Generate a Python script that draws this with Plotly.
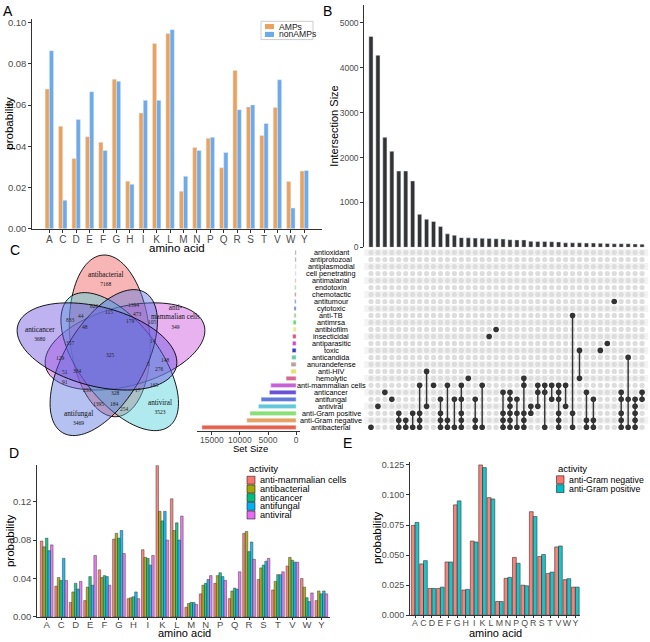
import numpy as np
import plotly.graph_objects as go

W, H = 650, 642
def px(x): return x / W
def py(y): return 1 - y / H

FONT = "Liberation Sans, Arial, sans-serif"
SERIF = "Liberation Serif, Times New Roman, serif"
TICKC = "#4D4D4D"

# ---------------- data ----------------
aa = list("ACDEFGHIKLMNPQRSTVWY")
amp_prob = [0.0678, 0.0497, 0.0341, 0.0447, 0.0420, 0.0726, 0.0231, 0.0562, 0.0899, 0.0947,
            0.0182, 0.0394, 0.0439, 0.0296, 0.0768, 0.0591, 0.0453, 0.0588, 0.0229, 0.0280]
nonamp_prob = [0.0864, 0.0139, 0.0530, 0.0665, 0.0380, 0.0716, 0.0216, 0.0623, 0.0623, 0.0966,
               0.0255, 0.0380, 0.0444, 0.0370, 0.0578, 0.0601, 0.0511, 0.0723, 0.0101, 0.0283]
groups_a = ["AMPs", "nonAMPs"]
colors_a = ["#E9A35E", "#6FAAE8"]

set_names = ["antioxidant", "antiprotozoal", "antiplasmodial", "cell penetrating", "antimalarial",
             "endotoxin", "chemotactic", "antitumour", "cytotoxic", "anti-TB", "antimrsa",
             "antibiofilm", "insecticidal", "antiparasitic", "toxic", "anticandida",
             "anurandefense", "anti-HIV", "hemolytic", "anti-mammalian cells", "anticancer",
             "antifungal", "antiviral", "anti-Gram positive", "anti-Gram negative", "antibacterial"]
set_sizes = [120, 130, 150, 150, 200, 230, 250, 250, 350, 350, 500, 500, 600, 650, 700, 770,
             900, 890, 1780, 4500, 4750, 6230, 6700, 8200, 8770, 16780]
set_colors = ["#222222", "#3a3a3a", "#b8b8e8", "#d0b8e0", "#e8b0b0", "#b0d890", "#c09090",
              "#a088c0", "#6878c8", "#b8c070", "#58e058", "#f0f070", "#e05070", "#d048d8",
              "#3838c8", "#70c8a0", "#b8a098", "#f0e060", "#d86890", "#c860d8", "#6a50d8",
              "#6078d8", "#60c8d8", "#88e070", "#e8a060", "#e8604c"]

inter_sizes = [4700, 4280, 2450, 2140, 1700, 1700, 1480, 735, 625, 575, 463, 300, 270, 215, 210,
               205, 200, 195, 190, 185, 170, 165, 165, 135, 130, 130, 125, 120, 100, 100, 100,
               95, 95, 90, 85, 80, 80, 80, 75, 70]
inter_members = [
    ["antibacterial"],
    ["antiviral"],
    ["anticancer"],
    ["antifungal"],
    ["antibacterial", "anti-Gram negative", "anti-Gram positive"],
    ["antibacterial", "anti-Gram negative"],
    ["antibacterial", "anti-Gram positive"],
    ["anti-mammalian cells", "antibacterial", "anti-Gram negative", "anti-Gram positive"],
    ["anti-HIV", "antiviral"],
    ["anti-mammalian cells"],
    ["antifungal", "antibacterial", "anti-Gram negative", "anti-Gram positive"],
    ["anti-mammalian cells", "antibacterial", "anti-Gram negative"],
    ["antifungal", "antibacterial"],
    ["anti-mammalian cells", "antifungal", "antibacterial", "anti-Gram negative", "anti-Gram positive"],
    ["hemolytic"],
    ["antifungal", "antibacterial", "anti-Gram negative"],
    ["anti-mammalian cells", "antibacterial"],
    ["insecticidal"],
    ["antibiofilm"],
    ["anticancer", "antibacterial", "anti-Gram negative", "anti-Gram positive"],
    ["anticancer", "antifungal", "antiviral", "antibacterial", "anti-Gram negative", "anti-Gram positive"],
    ["antifungal", "antibacterial", "anti-Gram positive"],
    ["hemolytic", "anti-mammalian cells", "antibacterial", "anti-Gram negative", "anti-Gram positive"],
    ["antiviral", "anti-Gram positive"],
    ["anti-mammalian cells", "anticancer", "antiviral"],
    ["anti-mammalian cells", "anticancer", "antibacterial"],
    ["anti-mammalian cells", "antifungal"],
    ["anti-mammalian cells", "anticancer", "antifungal", "antibacterial", "anti-Gram negative", "anti-Gram positive"],
    ["anti-mammalian cells", "antiviral"],
    ["anti-TB", "antibacterial", "anti-Gram positive"],
    ["toxic", "hemolytic"],
    ["anticancer", "antibacterial", "anti-Gram negative"],
    ["antifungal", "antibacterial", "anti-Gram negative"],
    ["toxic"],
    ["antiparasitic"],
    ["antitumour"],
    ["anticancer", "antifungal", "antibacterial", "anti-Gram negative", "anti-Gram positive"],
    ["anticandida", "antifungal", "antibacterial"],
    ["antifungal", "antiviral", "antibacterial", "anti-Gram negative", "anti-Gram positive"],
    ["anticancer", "antifungal"],
]
set_size_ticks = [0, 5000, 10000, 15000]

activities_d = ["anti-mammalian cells", "antibacterial", "anticancer", "antifungal", "antiviral"]
colors_d = ["#F8766D", "#A3A500", "#00BF7D", "#00B0F6", "#E76BF3"]
prob_d = {
    "anti-mammalian cells": [0.079, 0.032, 0.015, 0.017, 0.049, 0.081, 0.019, 0.070, 0.158, 0.123,
                             0.010, 0.024, 0.035, 0.019, 0.087, 0.039, 0.028, 0.053, 0.040, 0.017],
    "antibacterial": [0.073, 0.041, 0.026, 0.031, 0.041, 0.087, 0.020, 0.062, 0.110, 0.090,
                      0.014, 0.033, 0.043, 0.027, 0.089, 0.051, 0.037, 0.062, 0.031, 0.027],
    "anticancer": [0.082, 0.038, 0.035, 0.042, 0.043, 0.082, 0.021, 0.061, 0.100, 0.098,
                   0.015, 0.035, 0.046, 0.030, 0.068, 0.054, 0.044, 0.059, 0.020, 0.024],
    "antifungal": [0.069, 0.061, 0.029, 0.033, 0.042, 0.090, 0.026, 0.054, 0.110, 0.080,
                   0.015, 0.039, 0.042, 0.029, 0.078, 0.058, 0.044, 0.057, 0.016, 0.027],
    "antiviral": [0.075, 0.038, 0.037, 0.064, 0.033, 0.066, 0.019, 0.064, 0.080, 0.105,
                  0.013, 0.043, 0.038, 0.047, 0.060, 0.061, 0.047, 0.057, 0.025, 0.024],
}

activities_e = ["anti-Gram negative", "anti-Gram positive"]
colors_e = ["#F8766D", "#00BFC4"]
prob_e = {
    "anti-Gram negative": [0.0747, 0.0427, 0.0223, 0.0223, 0.0443, 0.0918, 0.0210, 0.0617, 0.1250, 0.0978,
                           0.0114, 0.0307, 0.0481, 0.0250, 0.0861, 0.0489, 0.0348, 0.0568, 0.0296, 0.0234],
    "anti-Gram positive": [0.0772, 0.0454, 0.0223, 0.0234, 0.0443, 0.0951, 0.0215, 0.0609, 0.1228, 0.0967,
                           0.0114, 0.0315, 0.0432, 0.0245, 0.0821, 0.0505, 0.0359, 0.0576, 0.0304, 0.0234],
}

venn_sets = ["antibacterial", "anti-mammalian cells", "antiviral", "antifungal", "anticancer"]
venn_set_totals = [7168, 349, 3523, 3469, 3680]
venn_region_counts = [826, 1394, 44, 115, 473, 833, 179, 105, 48, 14, 357, 325, 129, 5, 148,
                      51, 364, 276, 91, 233, 328, 17, 165, 1395, 184, 254]

# ---------------- helpers ----------------
fig = go.Figure()
annotations = []
shapes = []

def axis_common(**kw):
    d = dict(showgrid=False, zeroline=False, showline=True, linecolor="#333333", linewidth=1,
             ticks="outside", ticklen=3, tickcolor="#333333",
             tickfont=dict(family=FONT, size=9.5, color=TICKC))
    d.update(kw)
    return d

def ann(x, y, text, size=11, family=FONT, color="black", xanchor="center", **kw):
    d = dict(x=px(x), y=py(y), xref="paper", yref="paper", text=text, showarrow=False,
             xanchor=xanchor, yanchor="middle", font=dict(family=family, size=size, color=color))
    d.update(kw)
    annotations.append(d)

def rect(x0, y0, x1, y1, fill, line_color=None, lw=0):
    shapes.append(dict(type="rect", xref="paper", yref="paper", x0=px(x0), x1=px(x1),
                       y0=py(y1), y1=py(y0), fillcolor=fill,
                       line=dict(color=line_color or fill, width=lw), layer="above"))

# ---------------- Panel A ----------------
xi = list(range(len(aa)))
for k, (g, vals, col) in enumerate(zip(groups_a, [amp_prob, nonamp_prob], colors_a)):
    fig.add_trace(go.Bar(x=xi, y=vals, name=g, marker_color=col, width=0.315,
                         offset=-0.315 + k * 0.315, xaxis="x", yaxis="y", showlegend=False))
rect(261, 19.5, 313, 38, "white", "#CCCCCC", 1)
for k, (g, col) in enumerate(zip(groups_a, colors_a)):
    yc = 24.8 + k * 8
    rect(265, yc - 2.6, 274, yc + 2.6, col)
    ann(277, yc, g, size=8.6, xanchor="left", color="#222222")

# ---------------- Panel B (upset) ----------------
ncol = len(inter_sizes)
cols = list(range(ncol))
fig.add_trace(go.Bar(x=cols, y=inter_sizes, marker_color="#333333", width=0.6,
                     xaxis="x2", yaxis="y2", showlegend=False))

row_of = {n: len(set_names) - 1 - i for i, n in enumerate(set_names)}
gx, gy = [], []
for c in cols:
    for n in set_names:
        gx.append(c); gy.append(row_of[n])
fig.add_trace(go.Scatter(x=gx, y=gy, mode="markers", marker=dict(size=5.2, color="#DDDDDD"),
                         xaxis="x3", yaxis="y3", showlegend=False, hoverinfo="skip"))
lx, ly, dx, dy = [], [], [], []
for c, mem in zip(cols, inter_members):
    rows = [row_of[m] for m in mem]
    if len(rows) > 1:
        lx += [c, c, None]; ly += [min(rows), max(rows), None]
    for r in rows:
        dx.append(c); dy.append(r)
fig.add_trace(go.Scatter(x=lx, y=ly, mode="lines", line=dict(color="#333333", width=1.4),
                         xaxis="x3", yaxis="y3", showlegend=False, hoverinfo="skip"))
fig.add_trace(go.Scatter(x=dx, y=dy, mode="markers", marker=dict(size=5.6, color="#333333"),
                         xaxis="x3", yaxis="y3", showlegend=False))

set_rows = [row_of[n] for n in set_names]
fig.add_trace(go.Bar(x=set_sizes, y=set_rows, orientation="h", marker_color=set_colors, width=0.6,
                     xaxis="x4", yaxis="y4", showlegend=False))
for n in set_names:
    annotations.append(dict(x=px(331), y=row_of[n], xref="paper", yref="y3", text=n,
                            showarrow=False, font=dict(family=FONT, size=7.3, color="black"),
                            xanchor="center", yanchor="middle"))
for r in range(len(set_names)):
    if r % 2 == 1:
        shapes.append(dict(type="rect", xref="x3 domain", yref="y3", x0=0, x1=1,
                           y0=r - 0.5, y1=r + 0.5, fillcolor="#F3F3F3", line_width=0, layer="below"))

# ---------------- Panel D ----------------
wd = 0.176
for k, (act, col) in enumerate(zip(activities_d, colors_d)):
    fig.add_trace(go.Bar(x=xi, y=prob_d[act], name=act,
                         marker=dict(color=col, line=dict(color="#222222", width=0.5)),
                         width=wd, offset=-0.44 + k * wd, opacity=0.88,
                         xaxis="x5", yaxis="y5", showlegend=False))
ann(247, 472, "activity", size=9.5, xanchor="left")
for k, (act, col) in enumerate(zip(activities_d, colors_d)):
    yc = 483.5 + k * 8.8
    rect(247, yc - 4, 255, yc + 4, col, "#222222", 0.6)
    ann(258, yc, act, size=9.2, xanchor="left")

# ---------------- Panel E ----------------
for k, (act, col) in enumerate(zip(activities_e, colors_e)):
    fig.add_trace(go.Bar(x=xi, y=prob_e[act], name=act,
                         marker=dict(color=col, line=dict(color="#222222", width=0.6)),
                         width=0.45, offset=-0.45 + k * 0.45, opacity=0.9,
                         xaxis="x6", yaxis="y6", showlegend=False))
ann(556, 472, "activity", size=9.5, xanchor="left")
for k, (act, col) in enumerate(zip(activities_e, colors_e)):
    yc = 483 + k * 9
    rect(556.5, yc - 4, 564, yc + 4, col, "#222222", 0.6)
    ann(567, yc, act, size=8.8, xanchor="left")

# ---------------- Panel C (Venn) ----------------
C0 = (111.0, 352.0)
venn_angles = [95, 15, -53, 240, 165]
venn_fill = ["rgba(238,90,90,0.45)", "rgba(204,85,221,0.45)", "rgba(80,208,218,0.45)",
             "rgba(90,120,224,0.45)", "rgba(110,85,224,0.45)"]
A_SEMI, B_SEMI, OFF = 40.0, 82.0, 14.5
t = np.linspace(0, 2 * np.pi, 100)
for ang, fc in zip(venn_angles, venn_fill):
    th = np.deg2rad(ang)
    u = np.array([np.cos(th), -np.sin(th)])
    v = np.array([np.sin(th), np.cos(th)])
    c = np.array(C0) + OFF * u
    pts = c[None, :] + B_SEMI * np.cos(t)[:, None] * u + A_SEMI * np.sin(t)[:, None] * v
    path = "M " + " L ".join(f"{px(p[0]):.5f},{py(p[1]):.5f}" for p in pts) + " Z"
    shapes.append(dict(type="path", xref="paper", yref="paper", path=path, fillcolor=fc,
                       line=dict(color="black", width=0.9), layer="above"))

venn_label_pos = [(106, 280), (175, 318), (160, 409), (78, 421), (40, 336)]
venn_label_text = ["antibacterial", "anti-<br>mammalian cells", "antiviral", "antifungal", "anticancer"]
for (x, y), txt, tot in zip(venn_label_pos, venn_label_text, venn_set_totals):
    ann(x, y, f"{txt}<br><span style='font-size:5.5px'>{tot}</span>", size=7.2,
        family=SERIF, color="#111111")
venn_region_pos = [(94, 307), (133, 306), (81, 317), (109, 313), (137, 315), (70, 321), (130, 323),
                   (152, 324), (85, 329), (153, 343), (70, 345), (111, 357), (60, 360), (148, 366),
                   (165, 362), (65, 374), (77, 373), (159, 371), (65, 384), (87, 392), (115, 395),
                   (138, 392), (154, 387), (98, 406), (114, 406), (124, 411)]
for (x, y), cnt in zip(venn_region_pos, venn_region_counts):
    ann(x, y, str(cnt), size=5.5, family=SERIF, color="#222222")

# ---------------- titles / labels ----------------
ann(8, 9, "A", size=14); ann(327, 9, "B", size=14); ann(15, 251, "C", size=14)
ann(14, 456, "D", size=14); ann(347, 446, "E", size=14)
ann(177, 249, "amino acid", size=11.5)
ann(9, 123, "probability", size=11.5, textangle=-90)
ann(334, 126, "Intersection Size", size=11, textangle=-90)
ann(250, 451.5, "Set Size", size=9.5)
ann(184, 638, "amino acid", size=11)
ann(10, 545, "probability", size=11.5, textangle=-90)
ann(495, 638, "amino acid", size=11)
ann(377, 542, "probability", size=11.5, textangle=-90)

# ---------------- axes ----------------
aa_ticks = dict(tickmode="array", tickvals=xi, ticktext=aa, tickangle=0)
layout = dict(
    width=W, height=H, margin=dict(l=0, r=0, t=0, b=0), paper_bgcolor="white", plot_bgcolor="white",
    barmode="overlay", font=dict(family=FONT), showlegend=False,
    xaxis=axis_common(domain=[px(32.3), px(321.7)], range=[-1.27, 20.3], anchor="y", **aa_ticks,
                      ticklabelstandoff=-2,
                      tickfont=dict(family=FONT, size=10, color=TICKC)),
    yaxis=axis_common(domain=[py(229.3), py(16.7)], range=[0, 0.102], anchor="x",
                      tickvals=[0, 0.02, 0.04, 0.06, 0.08, 0.10], tickformat=".2f"),
    xaxis2=dict(domain=[px(364.3), px(648.3)], range=[-0.96, 39.9], anchor="y2", visible=False),
    yaxis2=axis_common(domain=[py(248), py(3)], range=[0, 5400], anchor="x2",
                       tickvals=[0, 1000, 2000, 3000, 4000, 5000],
                       tickfont=dict(family=FONT, size=8.5, color=TICKC)),
    xaxis3=dict(domain=[px(364.3), px(648.3)], range=[-0.96, 39.9], anchor="y3", visible=False),
    yaxis3=dict(domain=[py(433.3), py(249.8)], range=[-0.47, 25.5], anchor="x3", visible=False),
    xaxis4=axis_common(domain=[px(196.7), px(300)], range=[17700, -700], anchor="y4",
                       tickmode="array", tickvals=set_size_ticks,
                       ticktext=[str(v) for v in set_size_ticks], ticklabelstandoff=-2,
                       tickfont=dict(family=FONT, size=8.5, color=TICKC)),
    yaxis4=dict(domain=[py(433.3), py(249.8)], range=[-0.47, 25.5], anchor="x4", visible=False),
    xaxis5=axis_common(domain=[px(37.3), px(330)], range=[-0.65, 19.6], anchor="y5", **aa_ticks,
                       ticklen=2, ticklabelstandoff=-3,
                       tickfont=dict(family=FONT, size=9.5, color=TICKC)),
    yaxis5=axis_common(domain=[py(621.7), py(468.3)], range=[0, 0.158], anchor="x5",
                       tickvals=[0, 0.04, 0.08, 0.12], tickformat=".2f"),
    xaxis6=axis_common(domain=[px(410), px(580)], range=[-0.6, 19.55], anchor="y6", **aa_ticks,
                       ticklen=2, ticklabelstandoff=-3,
                       tickfont=dict(family=FONT, size=8.8, color=TICKC)),
    yaxis6=axis_common(domain=[py(620), py(465)], range=[0, 0.1275], anchor="x6",
                       tickvals=[0, 0.025, 0.05, 0.075, 0.1, 0.125], tickformat=".3f",
                       tickfont=dict(family=FONT, size=9, color=TICKC)),
    annotations=annotations, shapes=shapes,
)
fig.update_layout(**layout)
fig.write_html("out.html", config={"displayModeBar": False},
               post_script="document.body.style.margin='0px';document.body.style.overflow='hidden';")
